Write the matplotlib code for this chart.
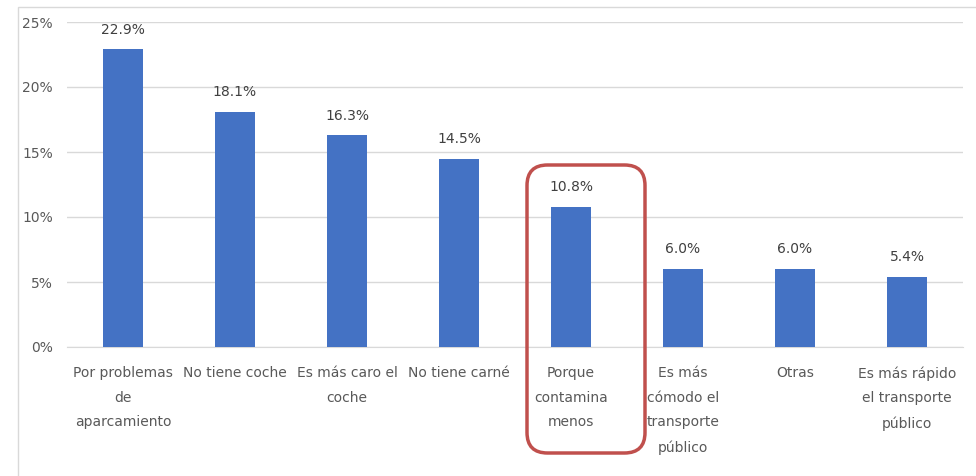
import matplotlib.pyplot as plt
from matplotlib.patches import FancyBboxPatch, Rectangle
from matplotlib.ticker import FuncFormatter

categories = [
    "Por problemas\nde\naparcamiento",
    "No tiene coche",
    "Es más caro el\ncoche",
    "No tiene carné",
    "Porque\ncontamina\nmenos",
    "Es más\ncómodo el\ntransporte\npúblico",
    "Otras",
    "Es más rápido\nel transporte\npúblico",
]
values = [22.9, 18.1, 16.3, 14.5, 10.8, 6.0, 6.0, 5.4]

W, H = 976, 476
fig = plt.figure(figsize=(W / 100, H / 100), dpi=100)
ax = fig.add_axes([67 / W, 1 - 347 / H, (963 - 67) / W, (347 - 22) / H])

x = range(len(categories))
bars = ax.bar(x, values, width=0.35, color="#4472C4", zorder=3)

for xi, v in zip(x, values):
    ax.annotate(f"{v:.1f}%", (xi, v), xytext=(0, 9), textcoords="offset points",
                ha="center", va="bottom", fontsize=10, color="#404040")

ax.set_xlim(-0.5, len(categories) - 0.5)
ax.set_ylim(0, 25)
ax.set_yticks(range(0, 26, 5))
ax.yaxis.set_major_formatter(FuncFormatter(lambda v, _: f"{v:.0f}%"))
ax.grid(axis="y", color="#D9D9D9", linewidth=1, zorder=0)

ax.set_xticks(list(x))
ax.set_xticklabels(categories, fontsize=10, color="#595959", linespacing=1.95)
ax.tick_params(axis="x", length=0, pad=14)
ax.tick_params(axis="y", length=0, pad=10, labelsize=10, labelcolor="#595959")

for side in ["top", "right", "left"]:
    ax.spines[side].set_visible(False)
ax.spines["bottom"].set_color("#D9D9D9")

# chart frame
fig.patches.append(Rectangle((18 / W, -0.1), 1.2, 1 - 7 / H + 0.1,
                             transform=fig.transFigure, fill=False,
                             edgecolor="#D9D9D9", linewidth=1))

# highlight box around "Porque contamina menos"
fig.patches.append(FancyBboxPatch((527 / W, 1 - 453 / H), (645 - 527) / W, (453 - 165) / H,
                                  boxstyle="round,pad=0,rounding_size=0.021",
                                  transform=fig.transFigure, fill=False,
                                  edgecolor="#C0504D", linewidth=2.5,
                                  mutation_aspect=W / H))

fig.savefig("out.png", dpi=100)
